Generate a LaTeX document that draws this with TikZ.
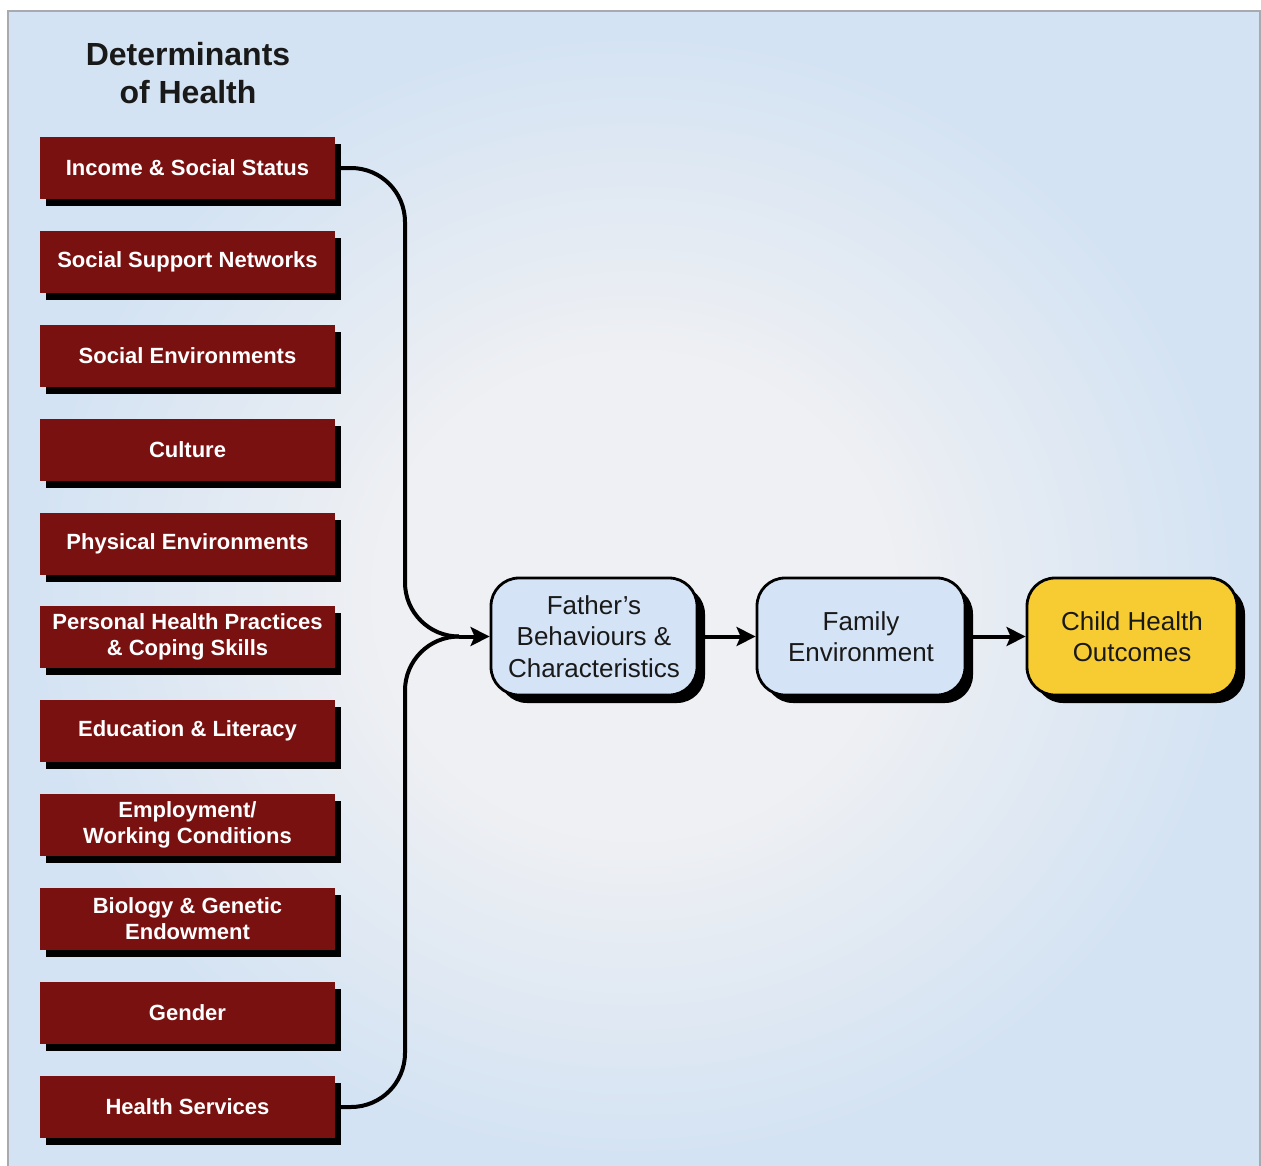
\documentclass[tikz,border=0pt]{standalone}
\usepackage{fontspec}
\setmainfont{Liberation Sans}
\usetikzlibrary{shadows,arrows.meta}
\definecolor{detred}{RGB}{122,17,17}
\definecolor{boxblue}{RGB}{212,228,246}
\definecolor{outyellow}{RGB}{247,204,50}
\definecolor{bgedge}{RGB}{212,227,243}
\definecolor{bgmid}{RGB}{239,240,243}
\definecolor{frameline}{RGB}{168,170,174}
\definecolor{darktext}{RGB}{25,25,25}
\pgfdeclareradialshading{bgglow}{\pgfpoint{0bp}{0bp}}{color(0bp)=(bgmid); color(10bp)=(bgmid); color(24bp)=(bgedge); color(25bp)=(bgedge); color(50bp)=(bgedge)}
\tikzset{
	det/.style={fill=detred, text=white, font=\bfseries\fontsize{22}{26}\selectfont, align=center, minimum width=295pt, minimum height=62pt, inner sep=0pt, drop shadow={shadow xshift=6pt, shadow yshift=-7pt, fill=black, opacity=1}},
	stage/.style={draw=black, line width=2.8pt, rounded corners=28pt, fill=boxblue, text=darktext, font=\fontsize{26}{31.5}\selectfont, align=center, minimum height=117pt, inner sep=0pt, drop shadow={shadow xshift=8pt, shadow yshift=-8pt, fill=black, opacity=1}},
	wire/.style={draw=black, line width=4pt},
	connector/.style={wire, -{Stealth[length=19pt,width=19pt,inset=4pt]}}
}

\begin{document}
\begin{tikzpicture}[x=1pt, y=-1pt]
		%%%%% START %%%%%
		\useasboundingbox (0, 0) rectangle (1261, 1165);
		
		\shade[shading=bgglow] (8, 11) rectangle (1260, 1180);
		\draw[line width=1.5pt, color=frameline] (8, 1180) -- (8, 11) -- (1260, 11) -- (1260, 1180);
		
		\node[font=\bfseries\fontsize{32}{38}\selectfont, align=center, text=darktext] (title) at (188, 73) {Determinants\\of Health};
		
		\node[det] (inc) at (187.5, 168) {Income \& Social Status};
		\node[det] (sup) at (187.5, 262) {Social Support Networks};
		\node[det] (soc) at (187.5, 356) {Social Environments};
		\node[det] (cul) at (187.5, 450) {Culture};
		\node[det] (phy) at (187.5, 544) {Physical Environments};
		\node[det] (prac) at (187.5, 637) {Personal Health Practices\\\& Coping Skills};
		\node[det] (edu) at (187.5, 731) {Education \& Literacy};
		\node[det] (emp) at (187.5, 825) {Employment/\\Working Conditions};
		\node[det] (bio) at (187.5, 919) {Biology \& Genetic\\Endowment};
		\node[det] (gen) at (187.5, 1013) {Gender};
		\node[det] (hs) at (187.5, 1107) {Health Services};
		
		\node[stage, minimum width=206pt] (fat) at (594, 636.5) {Father’s\\Behaviours \&\\Characteristics};
		\node[stage, minimum width=208pt] (fam) at (861, 636.5) {Family\\Environment};
		\node[stage, minimum width=210pt, fill=outyellow] (chd) at (1132, 636.5) {Child Health\\Outcomes};
		
		\coordinate (join) at (405, 636.5);
		\coordinate (merge) at (459, 636.5);
		\draw[wire, rounded corners=54pt] (inc.east) -| (join) -- (merge);
		\draw[wire, rounded corners=54pt] (hs.east) -| (join) -- (merge);
		\draw[connector] (merge) -- (fat.west);
		
		\draw[connector] (fat) -- (fam);
		\draw[connector] (fam) -- (chd);
		%%%%% END %%%%%
\end{tikzpicture}
\end{document}
